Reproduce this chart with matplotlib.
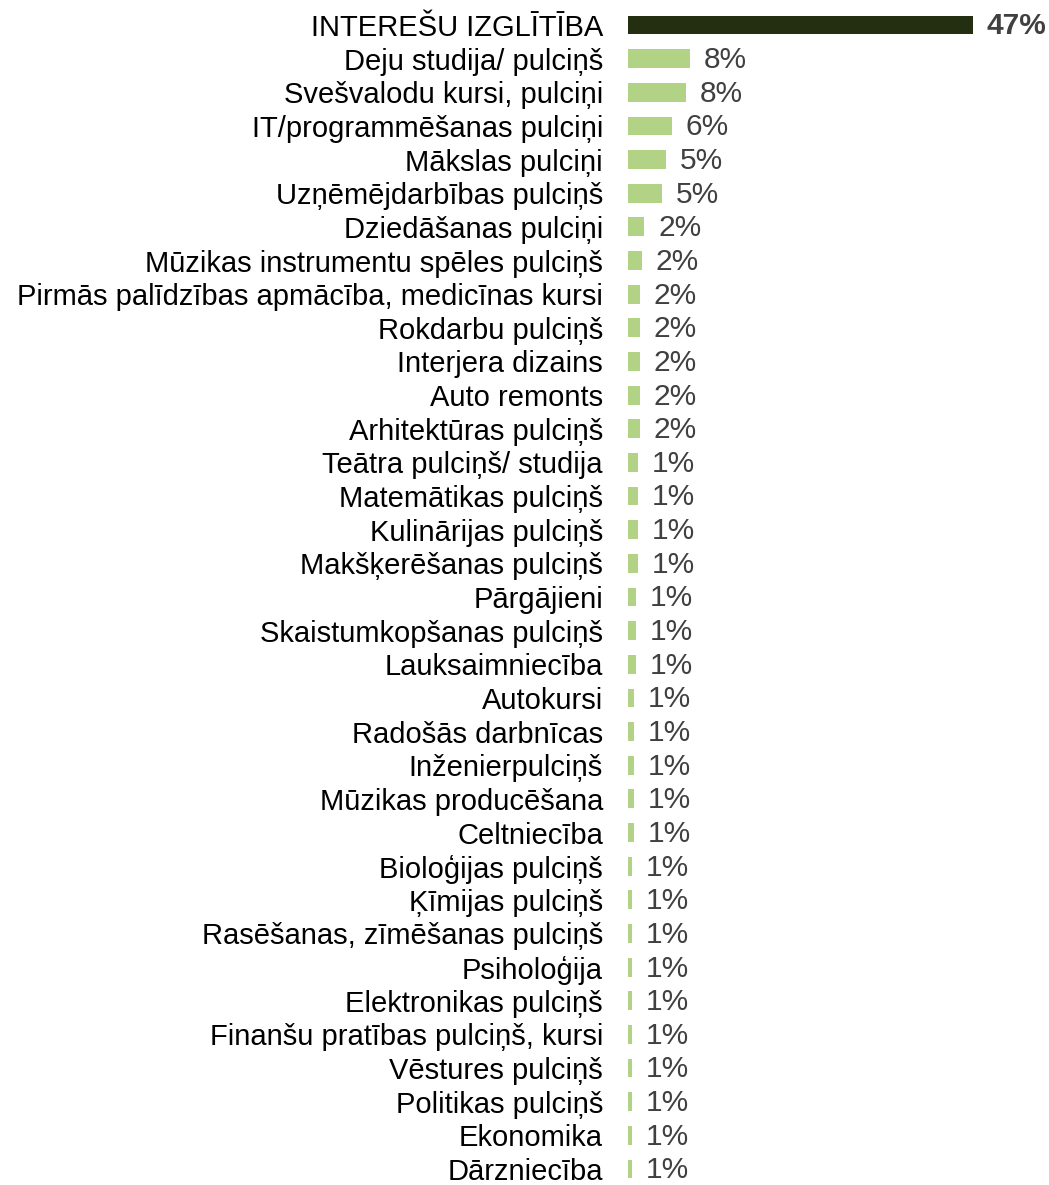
import numpy as np
import matplotlib.pyplot as plt

plt.rcParams['font.family'] = ['Liberation Sans', 'DejaVu Sans']

# categories, top to bottom
labels = [
    "INTEREŠU IZGLĪTĪBA",
    "Deju studija/ pulciņš",
    "Svešvalodu kursi, pulciņi",
    "IT/programmēšanas pulciņi",
    "Mākslas pulciņi",
    "Uzņēmējdarbības pulciņš",
    "Dziedāšanas pulciņi",
    "Mūzikas instrumentu spēles pulciņš",
    "Pirmās palīdzības apmācība, medicīnas kursi",
    "Rokdarbu pulciņš",
    "Interjera dizains",
    "Auto remonts",
    "Arhitektūras pulciņš",
    "Teātra pulciņš/ studija",
    "Matemātikas pulciņš",
    "Kulinārijas pulciņš",
    "Makšķerēšanas pulciņš",
    "Pārgājieni",
    "Skaistumkopšanas pulciņš",
    "Lauksaimniecība",
    "Autokursi",
    "Radošās darbnīcas",
    "Inženierpulciņš",
    "Mūzikas producēšana",
    "Celtniecība",
    "Bioloģijas pulciņš",
    "Ķīmijas pulciņš",
    "Rasēšanas, zīmēšanas pulciņš",
    "Psiholoģija",
    "Elektronikas pulciņš",
    "Finanšu pratības pulciņš, kursi",
    "Vēstures pulciņš",
    "Politikas pulciņš",
    "Ekonomika",
    "Dārzniecība",
]

# shares in %
values = [
    47, 8.45, 7.9, 6.0, 5.2, 4.6, 2.2, 1.9,
    1.6, 1.6, 1.6, 1.6, 1.6,
    1.4, 1.4, 1.4, 1.4,
    1.1, 1.1, 1.1,
    0.8, 0.8, 0.8, 0.8, 0.8,
    0.55, 0.55, 0.55, 0.55, 0.55, 0.55, 0.55, 0.55, 0.55, 0.55,
]

DARK = "#242f11"
LIGHT = "#b2d286"

fig = plt.figure(figsize=(10.49, 11.85), dpi=100)
ax = fig.add_axes([628 / 1049, 0, 1 - 628 / 1049, 1])

y = np.arange(len(labels))
colors = [DARK] + [LIGHT] * (len(labels) - 1)
bars = ax.barh(y, values, height=0.56, color=colors)

for i, (b, v) in enumerate(zip(bars, values)):
    ax.annotate(f"{v:.0f}%", (b.get_width(), b.get_y() + b.get_height() / 2),
                xytext=(10, -1), textcoords="offset points", va="center", ha="left",
                fontsize=21.5, color="#404040",
                fontweight="bold" if i == 0 else "normal")

ax.set_yticks(y)
ax.set_yticklabels(labels, fontsize=21, color="black")
ax.tick_params(axis="y", length=0, pad=18)
ax.set_xticks([])
ax.set_xlim(0, 421 / 7.33)
step = (1169 - 25) / 34
ax.set_ylim(34 + (1185 - 1169) / step, -25 / step)
for s in ax.spines.values():
    s.set_visible(False)

fig.savefig("out.png", dpi=100)
